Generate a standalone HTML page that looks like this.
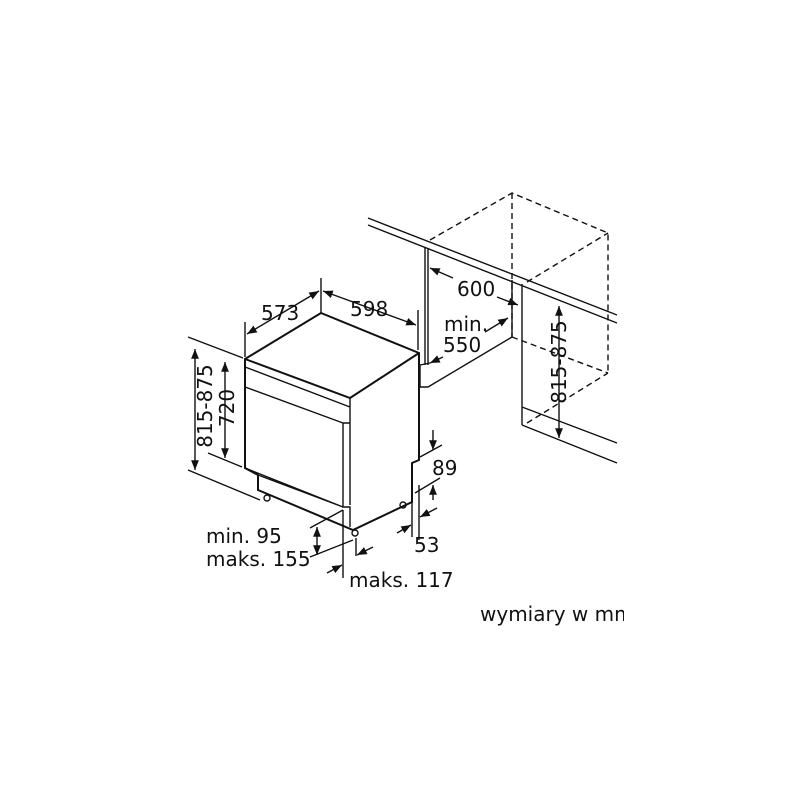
<!DOCTYPE html>
<html><head><style>body{margin:0;background:#fff}svg{display:block}text{font-family:"DejaVu Sans","Liberation Sans",sans-serif;font-size:20px;fill:#111}</style></head>
<body>
<svg width="800" height="800" viewBox="0 0 800 800" xmlns="http://www.w3.org/2000/svg">
<defs><marker id="a" viewBox="0 0 10 10" refX="10" refY="5" markerWidth="7" markerHeight="7" orient="auto-start-reverse"><path d="M0,1 L10,5 L0,9 z" fill="#111"/></marker>
<clipPath id="c"><rect x="0" y="0" width="624" height="800"/></clipPath></defs>
<g fill="none" stroke="#111" stroke-width="1.4">
<g stroke-dasharray="6,4">
<path d="M430,240 L512,193 L608,233 L608,373 M512,193 L512,337 M527,282 L608,233 M512,337 L608,373 M527,423 L608,373"/>
</g>
<path d="M368,218 L617,315 M368,225 L617,323"/>
<path d="M425,247 L425,365 M428,248 L428,365 M420,365 L420,387 L428,387 L512,337 M420,365 L430,363"/>
<path d="M512,280 L512,337 M522,284 L522,425 M522,407 L617,443 M522,425 L617,463"/>
<g stroke-width="2">
<path d="M245,359 L321,313 L419,353 L419,460 L412,463 L412,502 L353,530 L258,490 L258,475 L245,468 Z"/>
<path d="M245,359 L350,398 L419,353"/>
</g>
<path d="M245,367 L350,407 M245,387 L343,423 M350,398 L350,423 L343,423 M343,423 L343,507 L350,507 L350,527 M245,468 L343,507 M258,475 L343,507 M350,423 L350,505"/>
<circle cx="267" cy="498" r="3"/><circle cx="355" cy="533" r="3"/><circle cx="403" cy="505" r="3"/>
<path d="M245,322 L245,357 M321,278 L321,313 M418,310 L418,350"/>
<path d="M247,334 L319,291" marker-start="url(#a)" marker-end="url(#a)"/>
<path d="M323,291 L416,325" marker-start="url(#a)" marker-end="url(#a)"/>
<path d="M188,337 L243,358 M188,470 L260,500 M208,453 L242,467"/>
<path d="M195,349 L195,470" marker-start="url(#a)" marker-end="url(#a)"/>
<path d="M225,362 L225,458" marker-start="url(#a)" marker-end="url(#a)"/>
<path d="M433,430 L433,450" marker-end="url(#a)"/>
<path d="M420,457 L442,445 M415,493 L440,478"/>
<path d="M433,500 L433,485" marker-end="url(#a)"/>
<path d="M412,480 L412,537 M419,485 L419,540"/>
<path d="M397,533 L411,525" marker-end="url(#a)"/>
<path d="M437,508 L420,517" marker-end="url(#a)"/>
<path d="M310,528 L343,510 M310,557 L353,540"/>
<path d="M317,527 L317,555" marker-start="url(#a)" marker-end="url(#a)"/>
<path d="M343,510 L343,578 M356,538 L356,556"/>
<path d="M327,573 L342,565" marker-end="url(#a)"/>
<path d="M373,547 L357,555" marker-end="url(#a)"/>
<path d="M430,268 L453,278" marker-start="url(#a)"/>
<path d="M497,297 L518,305" marker-end="url(#a)"/>
<path d="M485,332 L508,318" marker-end="url(#a)"/>
<path d="M443,357 L430,363" marker-end="url(#a)"/>
<path d="M559,306 L559,438" marker-start="url(#a)" marker-end="url(#a)"/>
</g>
<text x="261" y="320">573</text>
<text x="350" y="316">598</text>
<text x="457" y="296">600</text>
<text x="444" y="331">min.</text>
<text x="443" y="352">550</text>
<text x="432" y="475">89</text>
<text x="414" y="552">53</text>
<text x="206" y="543">min. 95</text>
<text x="206" y="566">maks. 155</text>
<text x="349" y="587">maks. 117</text>
<text transform="translate(212,406) rotate(-90)" text-anchor="middle">815-875</text>
<text transform="translate(234,408) rotate(-90)" text-anchor="middle">720</text>
<text transform="translate(566,362) rotate(-90)" text-anchor="middle">815-875</text>
<g clip-path="url(#c)"><text x="480" y="621">wymiary w mm</text></g>
</svg>
</body></html>
